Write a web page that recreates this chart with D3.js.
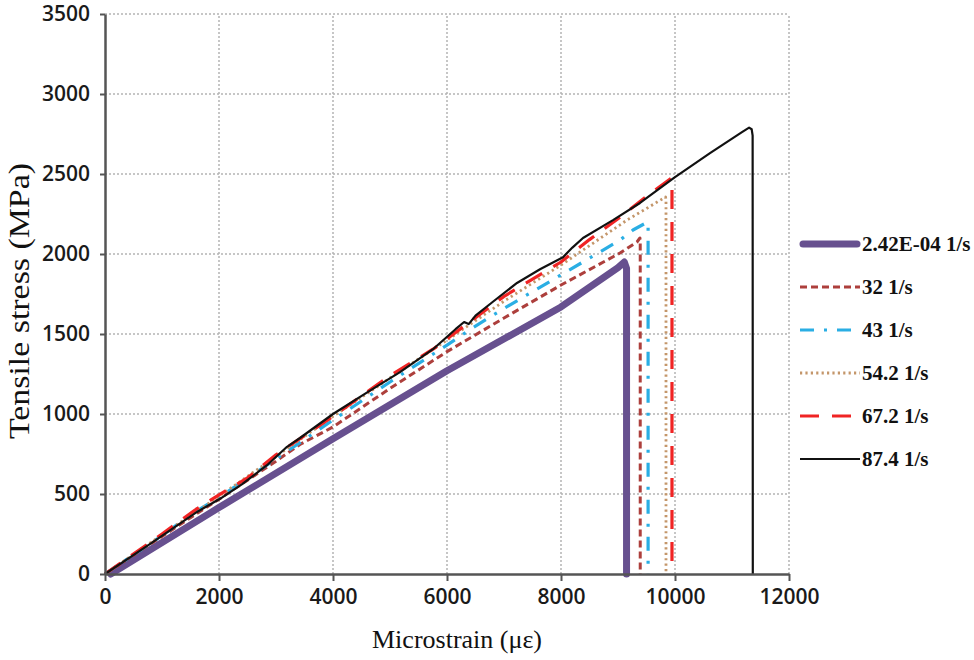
<!DOCTYPE html>
<html>
<head>
<meta charset="utf-8">
<script src="https://cdn.jsdelivr.net/npm/d3@7/dist/d3.min.js"></script>
<style>
  body { margin: 0; background: #fff; }
  svg { display: block; }
</style>
</head>
<body>
<svg id="chart" width="974" height="660"></svg>
<script>
// Tick values for both axes
const xTicks = [0, 2000, 4000, 6000, 8000, 10000, 12000];
const yTicks = [0, 500, 1000, 1500, 2000, 2500, 3000, 3500];

// Legend labels, one per strain rate
const seriesLabels = ["2.42E-04 1/s", "32 1/s", "43 1/s", "54.2 1/s", "67.2 1/s", "87.4 1/s"];

// Stress–strain curves: [microstrain, stress MPa]
const rate242e4 = [[100, 0], [2000, 415], [4000, 845], [6000, 1270], [8000, 1669], [9000, 1915], [9110, 1950], [9150, 1910], [9150, 0]];
const rate32 = [[0, 0], [1000, 235], [2000, 468], [3000, 705], [3421, 810], [4000, 919], [5000, 1160], [6000, 1390], [7000, 1600], [8000, 1806], [9035, 2006], [9333, 2075], [9385, 2100], [9390, 2070], [9390, 0]];
const rate43 = [[0, 0], [1000, 240], [1500, 370], [2000, 478], [3000, 720], [4000, 962], [5000, 1200], [6000, 1431], [6456, 1540], [7000, 1660], [8000, 1869], [9035, 2087], [9263, 2150], [9520, 2200], [9528, 2170], [9528, 0]];
const rate542 = [[0, 0], [1000, 245], [2000, 485], [3000, 735], [4000, 985], [5000, 1225], [6000, 1462], [7000, 1705], [8000, 1931], [9158, 2212], [9835, 2356], [9842, 2330], [9842, 0]];
const rate672 = [[0, 0], [1000, 250], [1600, 405], [2000, 495], [2500, 600], [3000, 745], [4000, 985], [5000, 1240], [5754, 1405], [6000, 1470], [7000, 1735], [8000, 1950], [8500, 2090], [9000, 2220], [9500, 2360], [9940, 2475], [9947, 2440], [9947, 0]];
const rate874 = [[0, 0], [800, 190], [1614, 388], [2018, 470], [2400, 560], [2842, 680], [3193, 795], [3421, 850], [4000, 1000], [4600, 1135], [5175, 1262], [5754, 1405], [6150, 1530], [6300, 1575], [6380, 1562], [6500, 1615], [6800, 1700], [7228, 1819], [7632, 1905], [8035, 1980], [8200, 2040], [8386, 2100], [8912, 2212], [9386, 2319], [10000, 2481], [10614, 2631], [11175, 2762], [11300, 2790], [11345, 2780], [11362, 2740], [11365, 0]];

const curves = [rate242e4, rate32, rate43, rate542, rate672, rate874];

// Line appearance per series
const styles = [
  { color: "#67508f", width: 7, dash: null, cap: "round" },
  { color: "#ad3f3c", width: 3, dash: "7,4", cap: "butt" },
  { color: "#2aaee4", width: 3.2, dash: "14,10,3,10", cap: "butt" },
  { color: "#c4966a", width: 2.8, dash: "2.2,3.2", cap: "butt" },
  { color: "#f02424", width: 3.2, dash: "19,13", cap: "butt" },
  { color: "#111111", width: 2.2, dash: null, cap: "butt" }
];

const svg = d3.select("#chart");
const x = d3.scaleLinear().domain([0, 12000]).range([105, 789]);
const y = d3.scaleLinear().domain([0, 3500]).range([574, 14]);

// Dotted grid
const grid = svg.append("g").attr("stroke", "#b4b4b4").attr("stroke-width", 1.5).attr("stroke-dasharray", "2,2");
grid.selectAll("line.h").data(yTicks.filter(d => d > 0)).join("line")
  .attr("x1", x(0)).attr("x2", x(12000))
  .attr("y1", d => y(d)).attr("y2", d => y(d));
grid.selectAll("line.v").data(xTicks.filter(d => d > 0)).join("line")
  .attr("y1", y(0)).attr("y2", y(3500))
  .attr("x1", d => x(d)).attr("x2", d => x(d));

// Curves
const line = d3.line().x(d => x(d[0])).y(d => y(d[1]));
svg.append("g").selectAll("path").data(curves).join("path")
  .attr("d", d => line(d))
  .attr("fill", "none")
  .attr("stroke", (d, i) => styles[i].color)
  .attr("stroke-width", (d, i) => styles[i].width)
  .attr("stroke-dasharray", (d, i) => styles[i].dash)
  .attr("stroke-linecap", (d, i) => styles[i].cap)
  .attr("stroke-linejoin", "round");

// Axes
const tickFont = "'Open Sans', 'Liberation Sans', sans-serif";
const yAxis = svg.append("g").attr("transform", `translate(${x(0)},0)`)
  .call(d3.axisLeft(y).tickValues(yTicks).tickSize(5).tickSizeOuter(0).tickPadding(10).tickFormat(d3.format("d")));
const xAxis = svg.append("g").attr("transform", `translate(0,${y(0)})`)
  .call(d3.axisBottom(x).tickValues(xTicks).tickSize(7).tickSizeOuter(0).tickPadding(8).tickFormat(d3.format("d")));
[xAxis, yAxis].forEach(a => {
  a.select(".domain").attr("stroke", "#555").attr("stroke-width", 2.5);
  a.selectAll(".tick line").attr("stroke", "#555").attr("stroke-width", 2);
  a.selectAll(".tick text").attr("fill", "#1a1a1a")
    .style("font-family", tickFont).style("font-size", "21px").style("font-weight", 600);
});

// Axis titles
svg.append("text")
  .attr("x", 457).attr("y", 648)
  .attr("text-anchor", "middle")
  .style("font-family", "'Liberation Serif', 'DejaVu Serif', serif")
  .style("font-size", "26px").attr("fill", "#111")
  .text("Microstrain (με)");
svg.append("text")
  .attr("transform", "translate(29,301) rotate(-90)")
  .attr("text-anchor", "middle")
  .attr("textLength", 276).attr("lengthAdjust", "spacingAndGlyphs")
  .style("font-family", "'Liberation Serif', 'DejaVu Serif', serif")
  .style("font-size", "29px").attr("fill", "#111")
  .text("Tensile stress (MPa)");

// Legend
const ly = d3.scalePoint().domain(seriesLabels).range([244, 459]);
const rows = svg.append("g").selectAll("g").data(seriesLabels).join("g")
  .attr("transform", d => `translate(0,${ly(d)})`);
rows.append("line")
  .attr("x1", (d, i) => i === 0 ? 803 : 800).attr("x2", (d, i) => i === 0 ? 857 : 860)
  .attr("y1", 0).attr("y2", 0)
  .attr("stroke", (d, i) => styles[i].color)
  .attr("stroke-width", (d, i) => styles[i].width)
  .attr("stroke-dasharray", (d, i) => styles[i].dash)
  .attr("stroke-linecap", (d, i) => styles[i].cap);
rows.append("text")
  .attr("x", 862).attr("y", 7)
  .style("font-family", "'Liberation Serif', 'DejaVu Serif', serif")
  .style("font-size", "21px").style("font-weight", "bold").attr("fill", "#111")
  .text(d => d);
</script>
</body>
</html>
